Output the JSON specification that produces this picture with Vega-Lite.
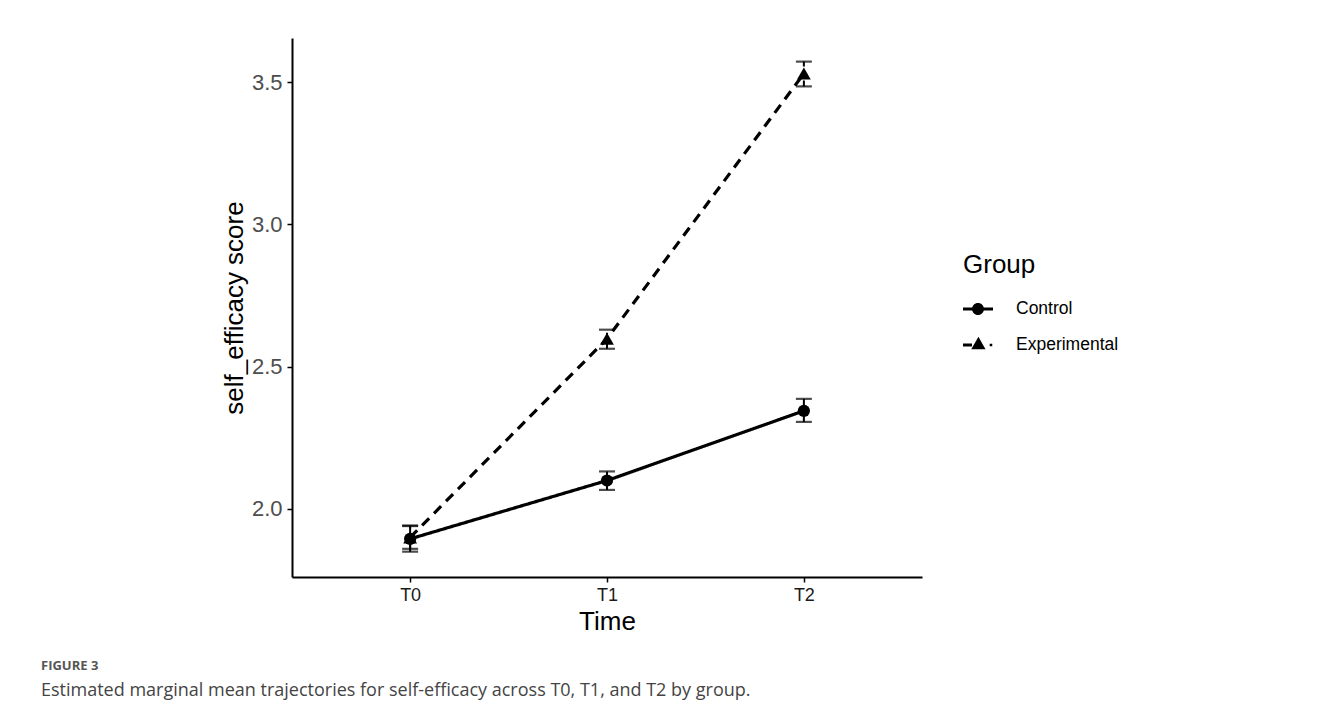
{
  "$schema": "https://vega.github.io/schema/vega-lite/v6.json",
  "autosize": "none",
  "width": 630,
  "height": 539,
  "padding": {"left": 292, "top": 38, "right": 411, "bottom": 136},
  "background": "white",
  "title": {
    "text": "FIGURE 3",
    "subtitle": "Estimated marginal mean trajectories for self-efficacy across T0, T1, and T2 by group.",
    "orient": "bottom",
    "anchor": "start",
    "frame": "group",
    "dx": -251,
    "offset": 26,
    "font": "Open Sans",
    "fontSize": 13,
    "fontWeight": "bold",
    "color": "#555555",
    "subtitleFont": "Open Sans",
    "subtitleFontSize": 18,
    "subtitleColor": "#444444",
    "subtitlePadding": 9
  },
  "data": {
    "values": [
      {"Group": "Control", "Time": "T0", "mean": 1.895, "lo": 1.850, "hi": 1.940},
      {"Group": "Control", "Time": "T1", "mean": 2.100, "lo": 2.067, "hi": 2.132},
      {"Group": "Control", "Time": "T2", "mean": 2.345, "lo": 2.306, "hi": 2.387},
      {"Group": "Experimental", "Time": "T0", "mean": 1.900, "lo": 1.860, "hi": 1.942},
      {"Group": "Experimental", "Time": "T1", "mean": 2.598, "lo": 2.563, "hi": 2.630},
      {"Group": "Experimental", "Time": "T2", "mean": 3.530, "lo": 3.485, "hi": 3.572}
    ]
  },
  "encoding": {
    "x": {
      "field": "Time",
      "type": "ordinal",
      "scale": {"type": "point", "padding": 0.6},
      "axis": {
        "title": "Time",
        "labelAngle": 0,
        "labelFont": "Liberation Sans",
        "labelFontSize": 18,
        "labelColor": "#1a1a1a",
        "labelPadding": 4,
        "titleFont": "Liberation Sans",
        "titleFontSize": 26,
        "titleFontWeight": "normal",
        "titleColor": "#000000",
        "titlePadding": 4
      }
    }
  },
  "layer": [
    {
      "mark": {"type": "line", "color": "black", "strokeWidth": 3.2},
      "encoding": {
        "y": {
          "field": "mean",
          "type": "quantitative",
          "scale": {"domain": [1.761, 3.655], "nice": false, "zero": false},
          "axis": {
            "title": "self_efficacy score",
            "values": [2.0, 2.5, 3.0, 3.5],
            "format": ".1f",
            "grid": false,
            "labelFont": "Liberation Sans",
            "labelFontSize": 22,
            "labelColor": "#4d4d4d",
            "labelPadding": 5,
            "titleFont": "Liberation Sans",
            "titleFontSize": 26,
            "titleFontWeight": "normal",
            "titleColor": "#000000",
            "titlePadding": 4
          }
        },
        "strokeDash": {
          "field": "Group",
          "type": "nominal",
          "scale": {"domain": ["Control", "Experimental"], "range": [[1, 0], [10, 7]]},
          "legend": null
        }
      }
    },
    {
      "mark": {"type": "rule", "color": "black", "strokeWidth": 2},
      "encoding": {
        "y": {"field": "lo", "type": "quantitative"},
        "y2": {"field": "hi"},
        "strokeDash": {
          "field": "Group",
          "type": "nominal",
          "scale": {"domain": ["Control", "Experimental"], "range": [[1, 0], [6, 4]]},
          "legend": null
        }
      }
    },
    {
      "mark": {"type": "tick", "color": "black", "size": 16, "thickness": 2.2},
      "encoding": {
        "y": {"field": "lo", "type": "quantitative"},
        "strokeDash": {
          "field": "Group",
          "type": "nominal",
          "scale": {"domain": ["Control", "Experimental"], "range": [[1, 0], [6, 4]]},
          "legend": null
        }
      }
    },
    {
      "mark": {"type": "tick", "color": "black", "size": 16, "thickness": 2.2},
      "encoding": {
        "y": {"field": "hi", "type": "quantitative"},
        "strokeDash": {
          "field": "Group",
          "type": "nominal",
          "scale": {"domain": ["Control", "Experimental"], "range": [[1, 0], [6, 4]]},
          "legend": null
        }
      }
    },
    {
      "mark": {"type": "point", "filled": true, "color": "black", "opacity": 1},
      "encoding": {
        "y": {"field": "mean", "type": "quantitative"},
        "shape": {
          "field": "Group",
          "type": "nominal",
          "scale": {"domain": ["Control", "Experimental"], "range": ["circle", "triangle-up"]},
          "legend": null
        },
        "size": {
          "field": "Group",
          "type": "nominal",
          "scale": {"domain": ["Control", "Experimental"], "range": [150, 190]},
          "legend": null
        }
      }
    },
    {
      "transform": [{"filter": "false"}],
      "mark": {"type": "point", "filled": true, "color": "black", "opacity": 1},
      "encoding": {
        "y": {"field": "mean", "type": "quantitative"},
        "shape": {
          "field": "Group",
          "type": "nominal",
          "scale": {
            "domain": ["Control", "Experimental"],
            "range": [
              "M-1,-0.1H1V0.1H-1Z M0.4,0A0.4,0.4 0 1,1 -0.4,0A0.4,0.4 0 1,1 0.4,0Z",
              "M-1,-0.1H-0.4V0.1H-1Z M-0.45,0.28L0.03,-0.55L0.5,0.28Z M0.78,-0.08H0.95V0.08H0.78Z"
            ]
          },
          "legend": {
            "title": "Group",
            "orient": "none",
            "legendX": 671,
            "legendY": 214,
            "padding": 0,
            "titleFont": "Liberation Sans",
            "titleFontSize": 26,
            "titleFontWeight": "normal",
            "titleColor": "#000000",
            "titlePadding": 16,
            "labelFont": "Liberation Sans",
            "labelFontSize": 17.5,
            "labelColor": "#000000",
            "labelOffset": 23,
            "symbolSize": 900,
            "symbolFillColor": "black",
            "symbolStrokeWidth": 0,
            "symbolOpacity": 1,
            "rowPadding": 12
          }
        }
      }
    }
  ],
  "resolve": {
    "scale": {"shape": "independent", "strokeDash": "independent"}
  },
  "config": {
    "view": {"stroke": null},
    "axis": {
      "domainColor": "black",
      "domainWidth": 2,
      "tickColor": "black",
      "tickWidth": 1.5,
      "tickSize": 5,
      "grid": false
    }
  }
}
